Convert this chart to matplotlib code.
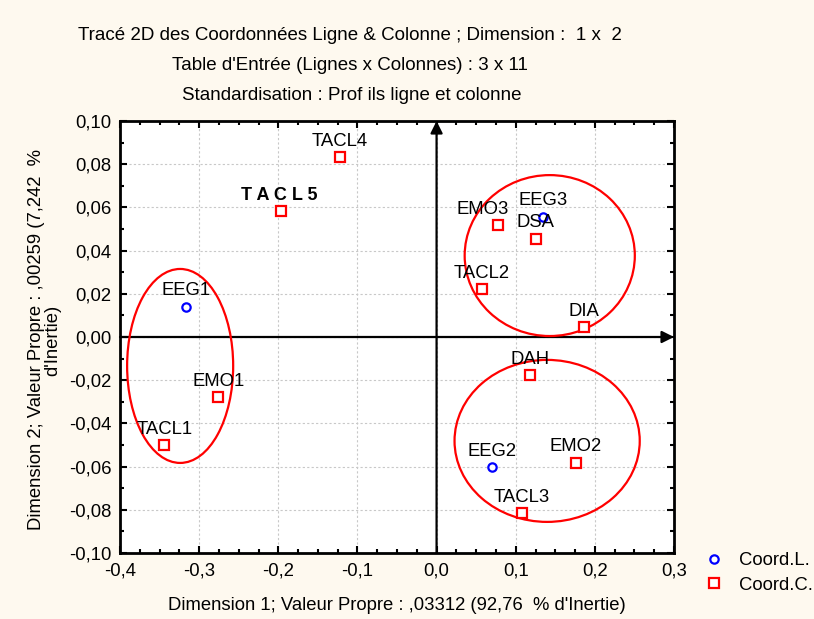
import matplotlib
matplotlib.use("Agg")
import matplotlib.pyplot as plt
from matplotlib.patches import Ellipse
from matplotlib.ticker import MultipleLocator, FuncFormatter
from matplotlib import font_manager

# Row coordinates (Coord.L.)
row_labels = ["EEG1", "EEG2", "EEG3"]
row_x = [-0.317, 0.0695, 0.135]
row_y = [0.0139, -0.0602, 0.0556]

# Column coordinates (Coord.C.)
col_labels = ["TACL1", "TACL2", "TACL3", "TACL4", "TACL5", "EMO1", "EMO2", "EMO3", "DAH", "DIA", "DSA"]
col_x = [-0.344, 0.057, 0.1075, -0.122, -0.1965, -0.276, 0.1757, 0.077, 0.1176, 0.186, 0.125]
col_y = [-0.050, 0.0222, -0.0815, 0.0833, 0.0583, -0.0278, -0.0583, 0.0519, -0.0176, 0.0046, 0.0454]

# Group ellipses: center x, center y, width, height
ell_cx = [-0.324, 0.143, 0.1397]
ell_cy = [-0.0134, 0.0377, -0.0481]
ell_w = [0.134, 0.215, 0.234]
ell_h = [0.0898, 0.0745, 0.075]

names = {f.name for f in font_manager.fontManager.ttflist}
base = "Liberation Sans" if "Liberation Sans" in names else "DejaVu Sans"
plt.rcParams['font.family'] = [base, 'DejaVu Sans']

FS = 13.3
bg = "#FEF9EF"
W, H = 814, 619
fig = plt.figure(figsize=(W/100, H/100), dpi=100, facecolor=bg)
ax = fig.add_axes([120/W, 1-553/H, (674-120)/W, (553-121)/H])
ax.set_facecolor("white")
ax.set_xlim(-0.4, 0.3)
ax.set_ylim(-0.10, 0.10)

ax.xaxis.set_major_locator(MultipleLocator(0.1))
ax.xaxis.set_minor_locator(MultipleLocator(0.025))
ax.yaxis.set_major_locator(MultipleLocator(0.02))
ax.yaxis.set_minor_locator(MultipleLocator(0.01))
ax.xaxis.set_major_formatter(FuncFormatter(lambda v, p: f"{v:.1f}".replace(".", ",").replace("-0,0", "0,0")))
ax.yaxis.set_major_formatter(FuncFormatter(lambda v, p: f"{v:.2f}".replace(".", ",").replace("-0,00", "0,00")))
ax.tick_params(which='both', direction='in', top=True, right=True, width=1.5, labelsize=FS, colors='black')
ax.tick_params(which='major', length=5)
ax.tick_params(which='minor', length=3)
ax.tick_params(axis='x', which='major', pad=7)
ax.tick_params(axis='y', which='major', pad=6)
ax.grid(True, which='major', color='#c8c8c8', linestyle=(0, (2, 2)), linewidth=0.8)
ax.set_axisbelow(True)
for s in ax.spines.values():
    s.set_linewidth(2)

# zero axes with arrows
ax.annotate("", xy=(0.3, 0), xytext=(-0.4, 0),
            arrowprops=dict(arrowstyle="-|>", color="black", lw=1.6, mutation_scale=18, shrinkA=0, shrinkB=0))
ax.annotate("", xy=(0, 0.10), xytext=(0, -0.10),
            arrowprops=dict(arrowstyle="-|>", color="black", lw=1.6, mutation_scale=18, shrinkA=0, shrinkB=0))

for cx, cy, w, h in zip(ell_cx, ell_cy, ell_w, ell_h):
    ax.add_patch(Ellipse((cx, cy), w, h, fill=False, edgecolor="red", lw=1.6, zorder=3))

ax.plot(row_x, row_y, linestyle='none', marker='o', markersize=6, markerfacecolor='white',
        markeredgecolor='blue', markeredgewidth=1.6, label='Coord.L.', zorder=5, clip_on=False)
ax.plot(col_x, col_y, linestyle='none', marker='s', markersize=6.5, markerfacecolor='white',
        markeredgecolor='red', markeredgewidth=1.6, label='Coord.C.', zorder=5, clip_on=False)

offsets = {"EMO3": (-15, 15)}
for lab, x, y in list(zip(row_labels, row_x, row_y)) + list(zip(col_labels, col_x, col_y)):
    dx, dy = offsets.get(lab, (0, 16))
    if lab == "TACL5":
        ax.annotate("T A C L 5", (x, y), xytext=(dx - 2, dy), textcoords='offset pixels',
                    ha='center', va='center', fontsize=13, fontweight='bold', zorder=6)
    else:
        ax.annotate(lab, (x, y), xytext=(dx, dy), textcoords='offset pixels',
                    ha='center', va='center', fontsize=FS, zorder=6)

# titles
fig.text(350/W, 1-35/H, "Tracé 2D des Coordonnées Ligne & Colonne ; Dimension :  1 x  2",
         ha='center', va='center', fontsize=13.5)
fig.text(350/W, 1-66/H, "Table d'Entrée (Lignes x Colonnes) : 3 x 11",
         ha='center', va='center', fontsize=13.5)
fig.text(352/W, 1-96/H, "Standardisation : Prof ils ligne et colonne",
         ha='center', va='center', fontsize=13.5)

fig.text(397/W, 1-606/H, "Dimension 1; Valeur Propre : ,03312 (92,76  % d'Inertie)",
         ha='center', va='center', fontsize=FS)
fig.text(45/W, 1-340/H, "Dimension 2; Valeur Propre : ,00259 (7,242  %\nd'Inertie)",
         ha='center', va='center', rotation=90, fontsize=FS, linespacing=0.95)

leg = fig.legend(loc='upper left', bbox_to_anchor=(703/W, 1-552/H), frameon=False,
                 fontsize=FS, handletextpad=0.75, labelspacing=0.42, handlelength=1.2,
                 borderpad=0, borderaxespad=0)

fig.savefig("out.png", dpi=100, facecolor=bg)
